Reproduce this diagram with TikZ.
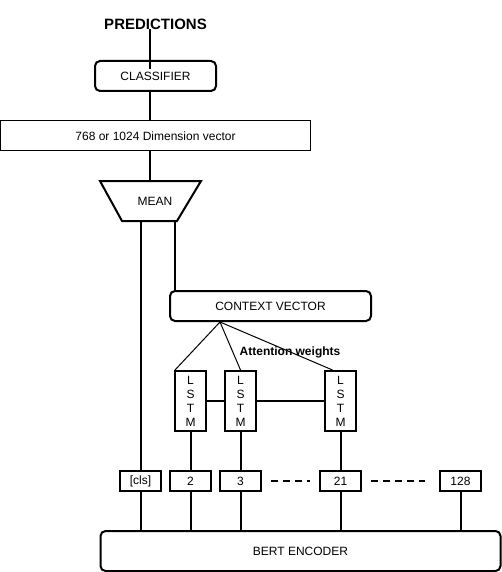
\documentclass[tikz,border=0pt]{standalone}
\usepackage{fontspec}
\setmainfont{Liberation Sans}
\begin{document}
\begin{tikzpicture}[x=1pt,y=-1pt,
  lbl/.style={font=\fontsize{12}{14}\selectfont},
  box/.style={draw,line width=2pt,inner sep=0pt,lbl},
  rbox/.style={box,rounded corners=5pt},
  conn/.style={line width=2pt},
  thinconn/.style={line width=1pt},
  dashconn/.style={line width=2pt,dash pattern=on 7pt off 5pt}]
\useasboundingbox (0,0) rectangle (502,572);
\node[font=\bfseries\fontsize{15}{17}\selectfont] (pred) at (155.5,24) {PREDICTIONS};
\node[rbox,minimum width=121pt,minimum height=30pt] (clf) at (155.5,76) {CLASSIFIER};
\node[box,line width=1pt,minimum width=310pt,minimum height=30pt] (dim) at (155.5,136) {768 or 1024 Dimension vector};
% trapezoid MEAN
\coordinate (mtl) at (100,181);
\coordinate (mtr) at (201,181);
\coordinate (mbr) at (177,221);
\coordinate (mbl) at (122,221);
\draw[line width=2pt,line join=miter] (mtl) -- (mtr) -- (mbr) -- (mbl) -- cycle;
\node[lbl] (mean) at (155,201) {MEAN};
\coordinate (m1) at (140.5,221);
\coordinate (m2) at (175,221);
\node[rbox,minimum width=201pt,minimum height=30pt] (ctx) at (270.5,306) {CONTEXT VECTOR};
\coordinate (att) at (220,322);
\node[lbl,font=\bfseries\fontsize{12}{14}\selectfont] (aw) at (290,352) {Attention weights};
\node[box,minimum width=31pt,minimum height=60pt,align=center,font=\fontsize{12}{14}\selectfont] (l1) at (190.5,401) {L\\S\\T\\M};
\node[box,minimum width=31pt,minimum height=60pt,align=center,font=\fontsize{12}{14}\selectfont] (l2) at (240.5,401) {L\\S\\T\\M};
\node[box,minimum width=31pt,minimum height=60pt,align=center,font=\fontsize{12}{14}\selectfont] (l3) at (340.5,401) {L\\S\\T\\M};
\node[box,minimum width=41pt,minimum height=20pt] (tcls) at (140.5,481) {[cls]};
\node[box,minimum width=41pt,minimum height=20pt] (t2) at (190.5,481) {2};
\node[box,minimum width=41pt,minimum height=20pt] (t3) at (240.5,481) {3};
\node[box,minimum width=41pt,minimum height=20pt] (t21) at (340.5,481) {21};
\node[box,minimum width=41pt,minimum height=20pt] (t128) at (460.5,481) {128};
\node[rbox,minimum width=400pt,minimum height=40pt] (bert) at (300.5,551) {BERT ENCODER};
% connectors
\draw[conn] ([xshift=-5.5pt,yshift=4pt]pred.south) -- ([xshift=-5.5pt,yshift=-9pt]clf.north);
\draw[conn] ([xshift=-5.5pt]clf.south) -- ([xshift=-5.5pt]dim.north);
\draw[conn] ([xshift=-5.5pt]dim.south) -- ([xshift=-5.5pt]dim.south |- mtl);
\draw[conn] (m1) -- (tcls.north);
\draw[conn] (m2) -- (m2 |- ctx.north);
\draw[thinconn] (att) -- ([xshift=1pt]l1.north west);
\draw[thinconn] (att) -- (l2.north);
\draw[thinconn] (att) -- ([xshift=-8pt]l3.north);
\draw[conn] (l1.east) -- (l2.west);
\draw[conn] (l2.east) -- (l3.west);
\draw[conn] (l1.south) -- (t2.north);
\draw[conn] (l2.south) -- (t3.north);
\draw[conn] (l3.south) -- (t21.north);
\draw[dashconn] ([xshift=9pt]t3.east) -- ([xshift=-9pt]t21.west);
\draw[dashconn] ([xshift=9pt]t21.east) -- ([xshift=-14pt]t128.west);
\foreach \t in {tcls,t2,t3,t21,t128} \draw[conn] (\t.south) -- (\t.south |- bert.north);
\end{tikzpicture}
\end{document}
